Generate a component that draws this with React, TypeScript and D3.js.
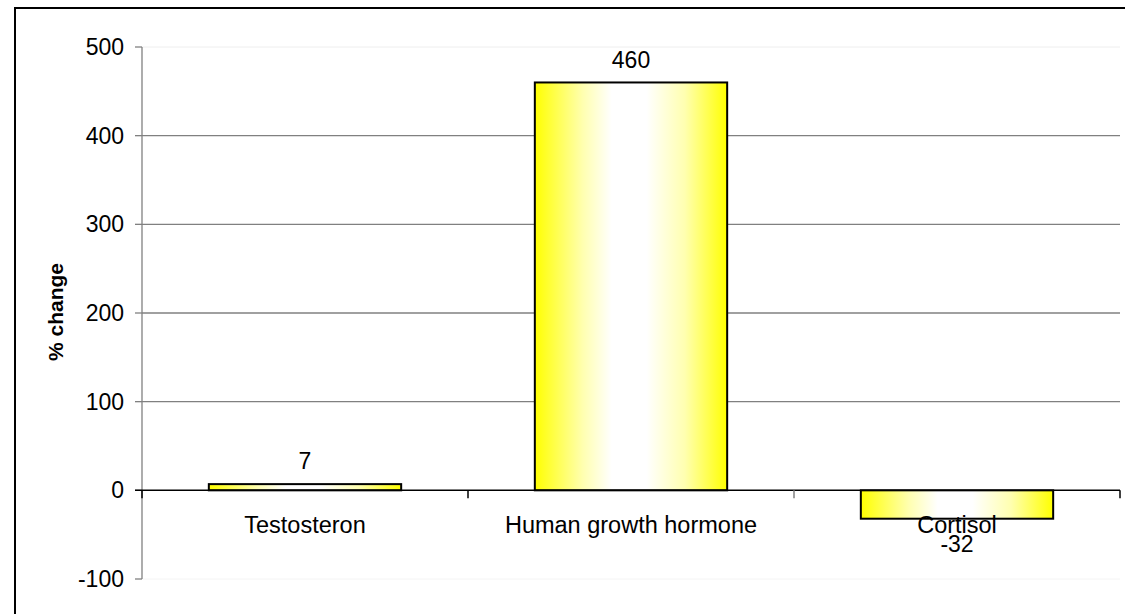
import React from "react";
import * as d3 from "d3";

const categories = ["Testosteron", "Human growth hormone", "Cortisol"];
const values = [7, 460, -32];
const yTicks = [-100, 0, 100, 200, 300, 400, 500];
const yLabel = "% change";

export default function App() {
  const W = 1125, H = 614;
  const left = 142, right = 1120, top = 47, bottom = 579;
  const y = d3.scaleLinear().domain([-100, 500]).range([bottom, top]);
  const x = d3.scaleBand<string>().domain(categories).range([left, right]).paddingInner(0.41).paddingOuter(0.205);
  const font = "'Liberation Sans', Arial, sans-serif";
  const y0 = y(0);
  const bounds = [left, ...categories.map((_, i) => left + ((right - left) * (i + 1)) / 3)];
  return (
    <svg width={W} height={H} style={{ position: "absolute", left: 0, top: 0 }}>
      <defs>
        <linearGradient id="barGrad" x1="0" x2="1" y1="0" y2="0">
          <stop offset="0%" stopColor="#ffff00" />
          <stop offset="25%" stopColor="#ffffb0" />
          <stop offset="40%" stopColor="#ffffff" />
          <stop offset="58%" stopColor="#ffffff" />
          <stop offset="78%" stopColor="#ffffb0" />
          <stop offset="100%" stopColor="#ffff00" />
        </linearGradient>
      </defs>
      <rect x={0} y={0} width={W} height={H} fill="#fff" />
      <rect x={15} y={8} width={W} height={H} fill="none" stroke="#000" strokeWidth={2} />
      <line x1={left} x2={right} y1={top} y2={top} stroke="#eeeeee" />
      <line x1={left} x2={right} y1={bottom} y2={bottom} stroke="#f4f4f4" />
      {yTicks.filter(t => t !== 0 && t !== 500 && t !== -100).map(t => (
        <line key={t} x1={left} x2={right} y1={y(t)} y2={y(t)} stroke="#808080" strokeWidth={1.3} />
      ))}
      <line x1={left} x2={left} y1={top} y2={bottom} stroke="#808080" strokeWidth={1.3} />
      {yTicks.map(t => (
        <g key={t}>
          <line x1={left - 7} x2={left} y1={y(t)} y2={y(t)} stroke="#808080" strokeWidth={1.3} />
          <text x={left - 18} y={y(t)} dy="0.35em" textAnchor="end" fontFamily={font} fontSize={23} fill="#000">{t}</text>
        </g>
      ))}
      <text transform={`translate(63,312) rotate(-90)`} textAnchor="middle" fontFamily={font} fontSize={21} fontWeight="bold" fill="#000">{yLabel}</text>
      {categories.map((c, i) => {
        const v = values[i];
        const yy = Math.min(y(v), y0);
        const h = Math.abs(y(v) - y0);
        return (
          <rect key={c} x={x(c)} y={yy} width={x.bandwidth()} height={h} fill="url(#barGrad)" stroke="#000" strokeWidth={2} />
        );
      })}
      <line x1={left - 7} x2={right} y1={y0} y2={y0} stroke="#000" strokeWidth={1.5} />
      {bounds.map((b, i) => (
        <line key={i} x1={b} x2={b} y1={y0} y2={y0 + 8} stroke={i === 2 ? "#808080" : "#000"} strokeWidth={1.5} />
      ))}
      {categories.map(c => (
        <text key={c} x={(x(c) as number) + x.bandwidth() / 2} y={525} dy="0.35em" textAnchor="middle" fontFamily={font} fontSize={23.5} fill="#000">{c}</text>
      ))}
      {categories.map((c, i) => {
        const v = values[i];
        const cx = (x(c) as number) + x.bandwidth() / 2;
        const ly = v >= 0 ? y(v) - 23 : y(v) + 25;
        return (
          <text key={"v" + c} x={cx} y={ly} dy="0.35em" textAnchor="middle" fontFamily={font} fontSize={23} fill="#000">{v}</text>
        );
      })}
    </svg>
  );
}
